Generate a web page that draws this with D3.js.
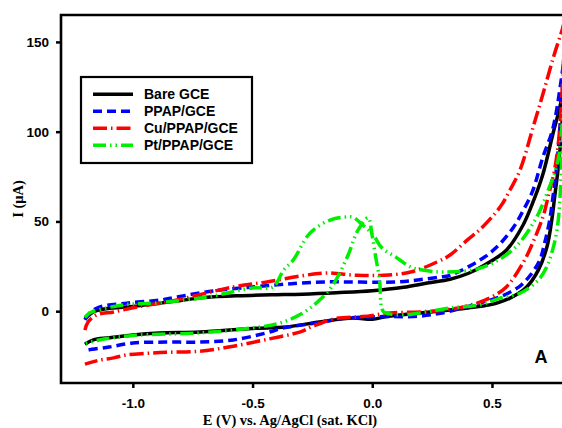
<!DOCTYPE html>
<html>
<head>
<meta charset="utf-8">
<script src="https://cdn.jsdelivr.net/npm/d3@7"></script>
<style>
  body { margin: 0; background: #fff; }
  svg { display: block; }
</style>
</head>
<body>
<svg id="svg1" width="562" height="428"></svg>
<script>
// cyclic voltammograms, each one = forward branch + reverse branch, [E (V), I (uA)]

const seriesNames = ["Bare GCE", "PPAP/GCE", "Cu/PPAP/GCE", "Pt/PPAP/GCE"];
const xTicks = [-1.0, -0.5, 0.0, 0.5];
const yTicks = [0, 50, 100, 150];

const bareFwd = [[-1.2,-4.5],[-1.19,-3],[-1.165,-0.4],[-1.12,1.2],[-1.025,2.3],[-0.885,4.5],[-0.8,6],[-0.7,7.6],[-0.56,8.6],[-0.42,9.1],[-0.29,9.5],[-0.15,10.3],[0,11.4],[0.13,13.3],[0.23,15.7],[0.325,17.8],[0.4,21],[0.46,25],[0.56,34],[0.63,48],[0.675,62],[0.712,76],[0.755,99],[0.784,114],[0.8,125]];
const bareRev = [[0.8,125],[0.79,100],[0.776,79],[0.763,65],[0.75,51],[0.73,36],[0.694,23],[0.645,13.5],[0.575,7.3],[0.49,3.5],[0.4,1.8],[0.325,0.7],[0.2,-1],[0.06,-3],[0.0,-4.5],[-0.08,-3.8],[-0.22,-6],[-0.36,-8.8],[-0.5,-9.6],[-0.72,-11.6],[-0.89,-12.1],[-1.0,-13.2],[-1.1,-14.8],[-1.165,-16],[-1.2,-18.4]];

const ppapFwd = [[-1.2,-4.8],[-1.18,-1],[-1.14,2.3],[-1.025,4.5],[-0.885,6.2],[-0.815,7.9],[-0.665,11.3],[-0.5,13.5],[-0.385,14.8],[-0.3,15.7],[-0.2,16.3],[0.1,16.3],[0.19,17.4],[0.28,19],[0.325,20],[0.45,28.5],[0.52,35.7],[0.59,46.8],[0.63,56],[0.67,67],[0.713,86],[0.75,99.6],[0.77,112],[0.785,125],[0.8,138]];
const ppapRev = [[0.8,138],[0.785,105],[0.77,80],[0.755,64],[0.74,50],[0.72,38],[0.7,28.5],[0.66,20],[0.617,14],[0.534,8],[0.46,5],[0.37,1.5],[0.27,-1.5],[0.17,-3],[0.045,-3],[-0.12,-4],[-0.23,-6.5],[-0.37,-9.3],[-0.44,-12],[-0.58,-16],[-0.72,-17.2],[-0.86,-17.2],[-1.0,-17.7],[-1.1,-20],[-1.19,-21.8],[-1.2,-22.5]];

const cuFwd = [[-1.2,-10.5],[-1.187,-6],[-1.15,-2],[-1.08,-0.4],[-0.98,2.4],[-0.86,5],[-0.79,7],[-0.58,13.5],[-0.44,16.3],[-0.3,19.6],[-0.19,21.3],[-0.065,20],[0.045,20],[0.16,21.8],[0.27,27.4],[0.325,31.3],[0.4,40],[0.45,45.5],[0.534,58],[0.575,67.5],[0.617,78.6],[0.672,102.6],[0.714,121.5],[0.757,141.6],[0.793,156.7],[0.8,160]];
const cuRev = [[0.8,160],[0.785,105],[0.763,80],[0.735,64],[0.714,53],[0.67,38],[0.63,27],[0.56,13.5],[0.49,7.3],[0.4,3],[0.3,0.7],[0.2,-0.4],[0.075,-1],[-0.04,-3],[-0.15,-4],[-0.25,-8.5],[-0.3,-11.5],[-0.44,-15.7],[-0.58,-19.5],[-0.72,-22.3],[-0.86,-22.9],[-0.94,-23.5],[-1.025,-24.3],[-1.08,-26],[-1.14,-27.3],[-1.2,-29.5]];

const ptFwd = [[-1.2,-3.5],[-1.19,-2],[-1.17,-0.4],[-1.04,3.5],[-0.9,4.6],[-0.69,7.9],[-0.5,12.9],[-0.415,13.5],[-0.37,22.9],[-0.33,28.5],[-0.26,43.5],[-0.176,50.8],[-0.105,52.5],[-0.08,52.3],[-0.04,48],[0.004,42.5],[0.04,35.3],[0.1,30],[0.16,24.6],[0.21,22.9],[0.3,21.8],[0.45,24],[0.585,34],[0.68,50.8],[0.735,67.5],[0.776,84],[0.8,115]];
const ptRev = [[0.8,115],[0.79,80],[0.78,55],[0.77,44],[0.755,35],[0.73,25],[0.694,17.4],[0.617,10],[0.534,7.3],[0.45,3.5],[0.325,1.8],[0.23,-0.4],[0.13,-2],[0.07,-1.5],[0.045,0],[0.03,18],[0.012,32],[-0.001,42.5],[-0.017,52],[-0.06,45],[-0.105,30],[-0.17,13.5],[-0.23,5],[-0.29,-1],[-0.385,-6.6],[-0.5,-9.3],[-0.72,-12.1],[-1.0,-13.5],[-1.14,-16],[-1.2,-18]];

var colors = ["#000000", "#0000ff", "#ff0000", "#00ee00"];
var dashes = [null, "9,5", "14,4,1.5,4", "13,4,1.5,4,1.5,4"];
var loops = [bareFwd.concat(bareRev.slice(1)), ppapFwd.concat(ppapRev.slice(1)),
             cuFwd.concat(cuRev.slice(1)), ptFwd.concat(ptRev.slice(1))];

// plot box (right side runs off the picture, like the original)
var plotL = 61, plotR = 565, plotT = 15, plotB = 383;

var x = d3.scaleLinear().domain([-1.3, 0.805]).range([plotL, plotR]);
var y = d3.scaleLinear().domain([-40, 165]).range([plotB, plotT]);

var svg = d3.select("#svg1");

// curves
var line = d3.line()
    .x(d => x(d[0]))
    .y(d => y(d[1]))
    .curve(d3.curveCatmullRom.alpha(0.5));

svg.selectAll("path.cv")
    .data(loops)
    .enter().append("path")
    .attr("class", "cv")
    .attr("d", line)
    .attr("fill", "none")
    .attr("stroke", (d, i) => colors[i])
    .attr("stroke-width", 3.5)
    .attr("stroke-dasharray", (d, i) => dashes[i]);

// frame
svg.append("path")
    .attr("d", "M" + plotR + "," + plotT + "H" + plotL + "V" + plotB + "H" + plotR)
    .attr("fill", "none")
    .attr("stroke", "black")
    .attr("stroke-width", 2.6);

// axes
var xAxis = svg.append("g")
    .attr("transform", "translate(0," + plotB + ")")
    .call(d3.axisBottom(x).tickValues(xTicks).tickFormat(d => d.toFixed(1)).tickSize(5).tickPadding(10));
var yAxis = svg.append("g")
    .attr("transform", "translate(" + plotL + ",0)")
    .call(d3.axisLeft(y).tickValues(yTicks).tickSize(5).tickPadding(7));

[xAxis, yAxis].forEach(function (g) {
    g.select(".domain").remove();
    g.selectAll("line").attr("stroke", "black").attr("stroke-width", 2.5);
    g.selectAll("text")
        .attr("fill", "black")
        .style("font-family", "'Liberation Sans', Arial, sans-serif")
        .style("font-weight", "bold")
        .style("font-size", "13.5px");
});

// axis titles
svg.append("text")
    .attr("x", 290)
    .attr("y", 425)
    .attr("text-anchor", "middle")
    .style("font-family", "'Liberation Serif', 'Times New Roman', serif")
    .style("font-weight", "bold")
    .style("font-size", "14.5px")
    .text("E (V) vs. Ag/AgCl (sat. KCl)");

svg.append("text")
    .attr("transform", "translate(23,199) rotate(-90)")
    .attr("text-anchor", "middle")
    .style("font-family", "'Liberation Serif', 'Times New Roman', serif")
    .style("font-weight", "bold")
    .style("font-size", "14.5px")
    .text("I (μA)");

// panel letter
svg.append("text")
    .attr("x", 541)
    .attr("y", 363)
    .attr("text-anchor", "middle")
    .style("font-family", "'Liberation Sans', Arial, sans-serif")
    .style("font-weight", "bold")
    .style("font-size", "18px")
    .text("A");

// legend
var legend = svg.append("g");
legend.append("rect")
    .attr("x", 81).attr("y", 77)
    .attr("width", 171).attr("height", 86)
    .attr("fill", "white")
    .attr("stroke", "black")
    .attr("stroke-width", 2.2);

var rowY = d3.scalePoint().domain(seriesNames).range([94.3, 145.3]);

legend.selectAll("line.key")
    .data(seriesNames)
    .enter().append("line")
    .attr("class", "key")
    .attr("x1", 93).attr("x2", 133)
    .attr("y1", d => rowY(d)).attr("y2", d => rowY(d))
    .attr("stroke", (d, i) => colors[i])
    .attr("stroke-width", 3.5)
    .attr("stroke-dasharray", (d, i) => dashes[i]);

legend.selectAll("text")
    .data(seriesNames)
    .enter().append("text")
    .attr("x", 144)
    .attr("y", d => rowY(d) + 5)
    .style("font-family", "'Liberation Sans', Arial, sans-serif")
    .style("font-weight", "bold")
    .style("font-size", "14px")
    .text(d => d);
</script>
</body>
</html>
